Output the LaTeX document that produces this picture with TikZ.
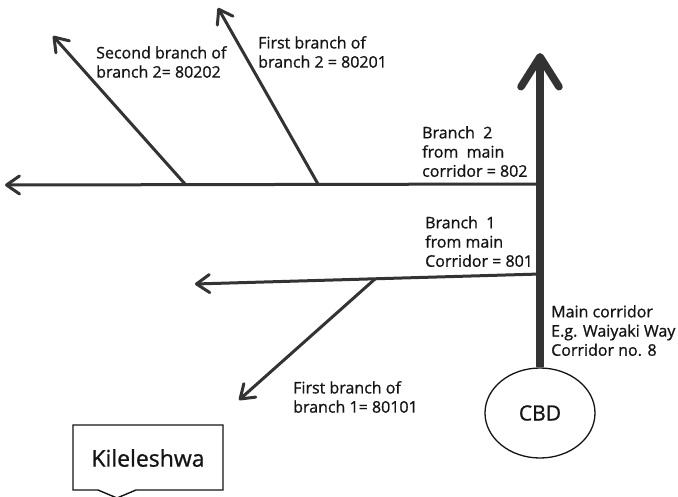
\documentclass[tikz,border=0pt]{standalone}
\usepackage{fontspec}
\setmainfont{Open Sans}[FakeBold=0.9]
\usetikzlibrary{arrows.meta,shapes.geometric}
\definecolor{roadgray}{HTML}{333333}
\definecolor{txt}{HTML}{141414}
\begin{document}
\begin{tikzpicture}[x=1pt,y=-1pt,
  road/.style={draw=roadgray, line width=3pt, -{Straight Barb[length=13pt,width=18pt,round]}},
  mainroad/.style={draw=roadgray, line width=7.5pt, -{Straight Barb[length=30pt,width=38pt,round]}},
  lbl/.style={anchor=north west, inner sep=0pt, align=left, text=txt, font=\fontsize{16}{19.2}\selectfont},
  place/.style={ellipse, draw=txt, line width=1.3pt, minimum width=110pt, minimum height=90pt, text=txt, font=\fontsize{21}{24}\selectfont},
  callout/.style={draw=txt, line width=1.4pt, fill=white}]
\useasboundingbox (0,0) rectangle (678,496);
% places
\node[place] (cbd) at (540,413) {CBD};
% junctions and ends
\coordinate (top) at (540,53);
\coordinate (j2) at (540,184);
\coordinate (b2end) at (5,185);
\coordinate (j2a) at (318,184);
\coordinate (t2a) at (218,8);
\coordinate (j2b) at (185,184);
\coordinate (t2b) at (53,36);
\coordinate (j1) at (540,274);
\coordinate (b1end) at (195,284);
\coordinate (j1a) at (375,279);
\coordinate (t1a) at (239,400);
% branches
\draw[road] (j2) -- (b2end);
\draw[road] (j2a) -- (t2a);
\draw[road] (j2b) -- (t2b);
\draw[road] (j1) -- (b1end);
\draw[road] (j1a) -- (t1a);
% main corridor
\draw[mainroad] (cbd.north) -- (top);
% labels
\node[lbl] (l80202) at (96,46) {Second branch of\\branch 2= 80202};
\node[lbl] (l80201) at (258,36) {First branch of\\branch 2 = 80201};
\node[lbl] (l802) at (422,126) {Branch\ \ 2\\from\ \ main\\corridor = 802};
\node[lbl] (l801) at (425,216) {Branch\ \ 1\\from main\\Corridor = 801};
\node[lbl] (lmain) at (551,305) {Main corridor\\E.g. Waiyaki Way\\Corridor no. 8};
\node[lbl] (l80101) at (293,381) {First branch of\\branch 1= 80101};
% Kileleshwa callout
\draw[callout] (73,425) -- (223,425) -- (223,490) -- (136,490) -- (117,498) -- (98,490) -- (73,490) -- cycle;
\node[text=txt, font=\fontsize{23}{26}\selectfont, inner sep=0pt] (kil) at (148,458) {Kileleshwa};
\end{tikzpicture}
\end{document}
